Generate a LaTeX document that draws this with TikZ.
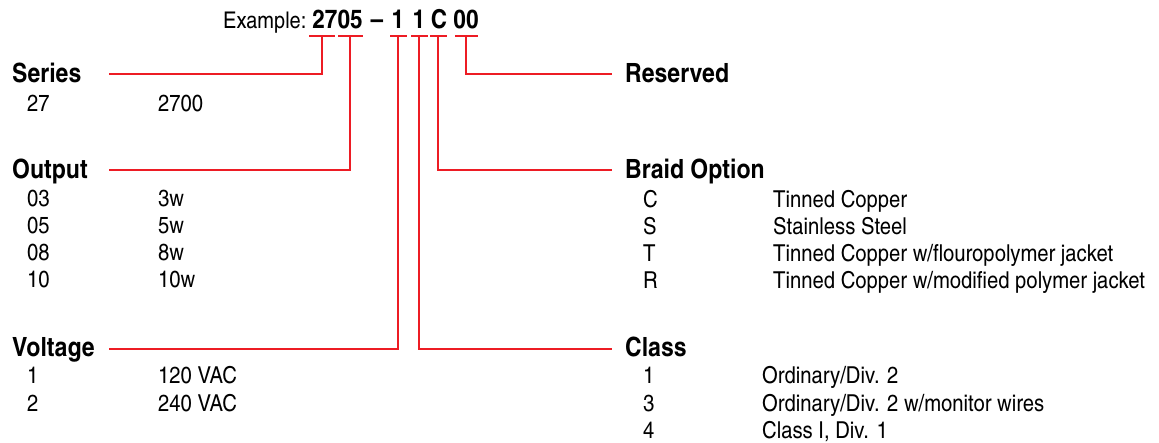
\documentclass[tikz,border=0pt]{standalone}
\usepackage{fontspec}
\setmainfont[FakeStretch=1.06]{TeX Gyre Heros Cn}
\definecolor{codered}{RGB}{237,28,36}
\begin{document}
\begin{tikzpicture}[x=1pt,y=-1pt,
  head/.style={font=\fontsize{26.5}{30}\selectfont\bfseries, anchor=base west, inner sep=0pt},
  item/.style={font=\fontsize{23.3}{27}\selectfont, anchor=base west, inner sep=0pt},
  code/.style={font=\fontsize{26}{30}\selectfont\bfseries, anchor=base, inner sep=0pt},
  wire/.style={draw=codered, line width=2pt}]
\useasboundingbox (0,0) rectangle (1159,443);
% example line
\node[font=\fontsize{23}{28}\selectfont, anchor=base west, inner sep=0pt] (ex) at (223,29) {Example:};
\node[code] (cser) at (337.5,29) {2705};
\node[code] (cdash) at (377,29) {–};
\node[code] (cv) at (398,29) {1};
\node[code] (cc) at (419,29) {1};
\node[code] (cb) at (439,29) {C};
\node[code] (cr) at (466,29) {00};
% bracket coordinates
\coordinate (b1l) at (309,36); \coordinate (b1r) at (335,36); \coordinate (b1m) at (322,36);
\coordinate (b2l) at (338,36); \coordinate (b2r) at (363,36); \coordinate (b2m) at (350,36);
\coordinate (b3l) at (390,36); \coordinate (b3r) at (407,36); \coordinate (b3m) at (398,36);
\coordinate (b4l) at (411,36); \coordinate (b4r) at (428,36); \coordinate (b4m) at (419,36);
\coordinate (b5l) at (430,36); \coordinate (b5r) at (447,36); \coordinate (b5m) at (438,36);
\coordinate (b6l) at (455,36); \coordinate (b6r) at (478,36); \coordinate (b6m) at (466,36);
% line ends
\coordinate (eS) at (109,74);
\coordinate (eO) at (109,170);
\coordinate (eV) at (109,349);
\coordinate (eR) at (612,74);
\coordinate (eB) at (612,170);
\coordinate (eC) at (612,349);
% brackets and leaders
\draw[wire] (b1l) -- (b1r); \draw[wire] (b1m) |- (eS);
\draw[wire] (b2l) -- (b2r); \draw[wire] (b2m) |- (eO);
\draw[wire] (b3l) -- (b3r); \draw[wire] (b3m) |- (eV);
\draw[wire] (b4l) -- (b4r); \draw[wire] (b4m) |- (eC);
\draw[wire] (b5l) -- (b5r); \draw[wire] (b5m) |- (eB);
\draw[wire] (b6l) -- (b6r); \draw[wire] (b6m) |- (eR);
% left column
\node[head] (series) at (12,83) {Series};
\node[item] (s1a) at (27,112) {27};
\node[item] (s1b) at (158,112) {2700};
\node[head] (output) at (12,179) {Output};
\node[item] (o1a) at (27,207) {03}; \node[item] (o1b) at (158,207) {3w};
\node[item] (o2a) at (27,234) {05}; \node[item] (o2b) at (158,234) {5w};
\node[item] (o3a) at (27,261) {08}; \node[item] (o3b) at (158,261) {8w};
\node[item] (o4a) at (27,288) {10}; \node[item] (o4b) at (158,288) {10w};
\node[head] (voltage) at (12,356) {Voltage};
\node[item] (v1a) at (27,384) {1}; \node[item] (v1b) at (158,384) {120 VAC};
\node[item] (v2a) at (27,411) {2}; \node[item] (v2b) at (158,411) {240 VAC};
% right column
\node[head] (reserved) at (625,83) {Reserved};
\node[head] (braid) at (625,179) {Braid Option};
\node[item] (b1a) at (643,208) {C}; \node[item] (b1b) at (773,208) {Tinned Copper};
\node[item] (b2a) at (643,235) {S}; \node[item] (b2b) at (773,235) {Stainless Steel};
\node[item] (b3a) at (643,262) {T}; \node[item] (b3b) at (773,262) {Tinned Copper w/flouropolymer jacket};
\node[item] (b4a) at (643,289) {R}; \node[item] (b4b) at (773,289) {Tinned Copper w/modified polymer jacket};
\node[head] (class) at (625,356) {Class};
\node[item] (k1a) at (643,384) {1}; \node[item] (k1b) at (762,384) {Ordinary/Div. 2};
\node[item] (k2a) at (643,411) {3}; \node[item] (k2b) at (762,411) {Ordinary/Div. 2 w/monitor wires};
\node[item] (k3a) at (643,438) {4}; \node[item] (k3b) at (762,438) {Class I, Div. 1};
\end{tikzpicture}
\end{document}
